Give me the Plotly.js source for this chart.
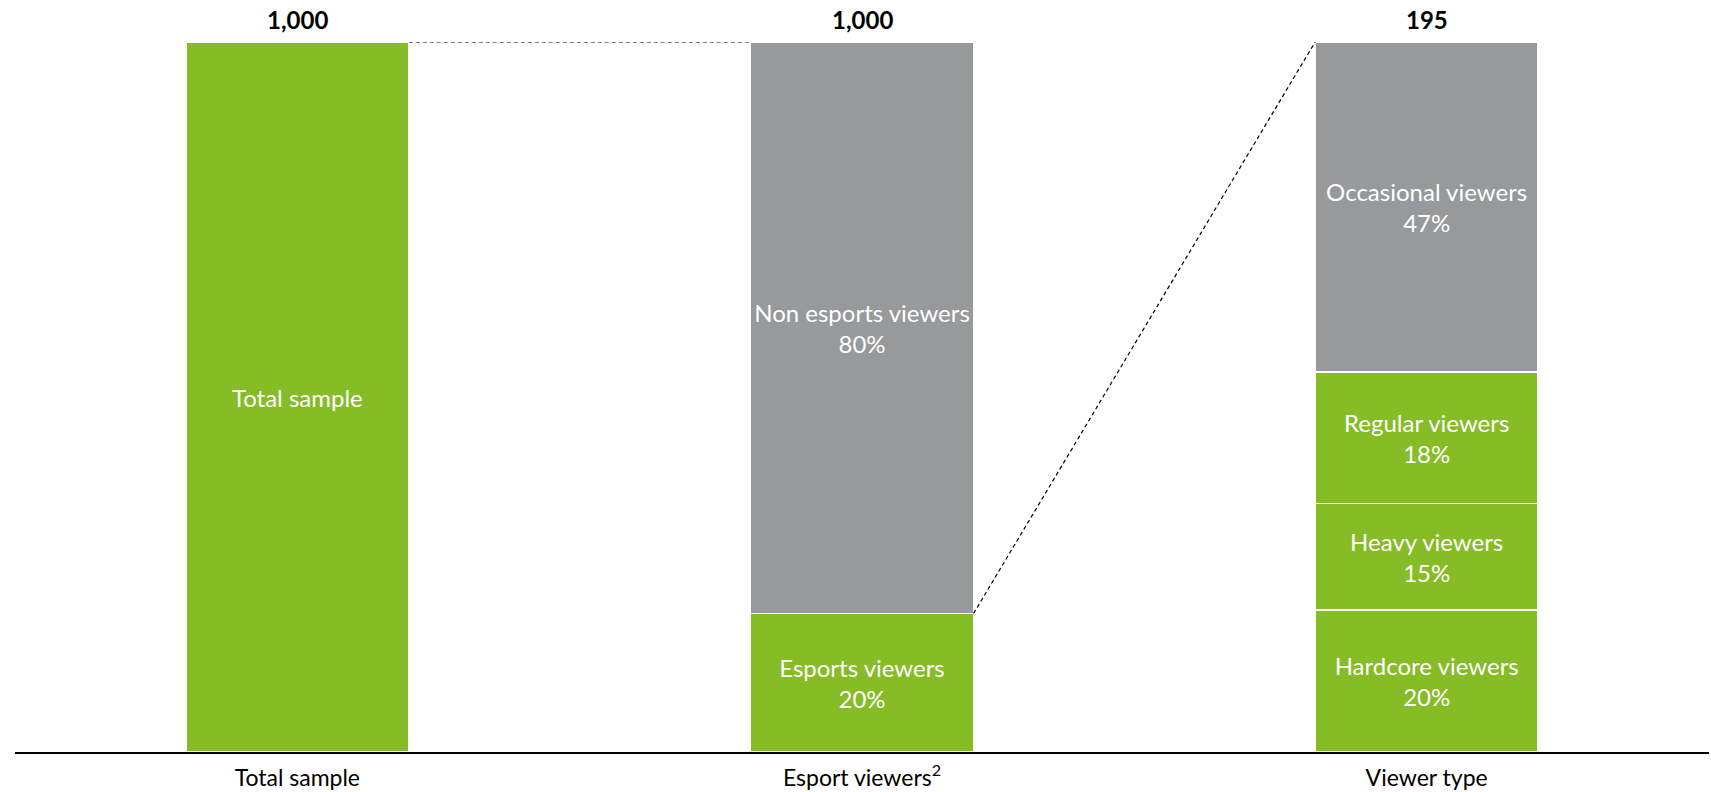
<!DOCTYPE html>
<html>
<head>
<meta charset="utf-8">
<script src="https://cdn.plot.ly/plotly-3.0.1.min.js"></script>
<style>html,body{margin:0;padding:0;background:#fff;}#chart{width:1711px;height:792px;}</style>
</head>
<body>
<div id="chart"></div>
<script>
// Categories (x axis)
const categories = ['Total sample', 'Esport viewers<sup>2</sup>', 'Viewer type'];
// Sample sizes shown above each bar
const totals = ['1,000', '1,000', '195'];

// Segments (share of bar, %)
const segNames  = ['Total sample', 'Esports viewers', 'Non esports viewers', 'Hardcore viewers', 'Heavy viewers', 'Regular viewers', 'Occasional viewers'];
const segCat    = [0, 1, 1, 2, 2, 2, 2];
const segValues = [100, 19.5, 80.5, 20, 15, 18.5, 46.5];
const segLabels = ['', '20%', '80%', '20%', '15%', '18%', '47%'];
const segGroup  = ['green', 'green', 'grey', 'green', 'green', 'green', 'grey'];

const GREEN = '#86bc25';
const GREY = '#97999b';
const FONT = 'Lato, "Open Sans", sans-serif';
const BARWIDTH = 0.395;

const traces = segNames.map((n, i) => ({
  type: 'bar',
  name: n,
  x: [categories[segCat[i]]],
  y: [segValues[i]],
  width: BARWIDTH,
  text: [segLabels[i] ? n + '<br>' + segLabels[i] : n],
  textposition: 'inside',
  insidetextanchor: 'middle',
  constraintext: 'none',
  textangle: 0,
  textfont: {family: FONT, size: 24, color: '#ffffff'},
  marker: {color: segGroup[i] === 'green' ? GREEN : GREY, line: {color: '#ffffff', width: 1.5}},
  hoverinfo: 'none',
  showlegend: false
}));

const annotations = categories.map((c, i) => ({
  x: c, y: 100, xref: 'x', yref: 'y',
  text: '<b>' + totals[i] + '</b>',
  showarrow: false, yanchor: 'bottom', yshift: 6,
  font: {family: FONT, size: 24, color: '#000'}
}));

// connector lines, computed from category index and bar width
const half = BARWIDTH / 2;
const esportsTop = segValues[1];
const shapes = [
  {type: 'line', xref: 'x', yref: 'y', x0: 0 + half, y0: 100, x1: 1 - half, y1: 100,
   line: {color: '#000', width: 1.2, dash: '4px,3px'}},
  {type: 'line', xref: 'x', yref: 'y', x0: 1 + half, y0: esportsTop, x1: 2 - half, y1: 100,
   line: {color: '#000', width: 1.2, dash: '4px,3px'}}
];

const layout = {
  width: 1711, height: 792,
  margin: {l: 15, r: 2, t: 42, b: 40},
  paper_bgcolor: '#fff', plot_bgcolor: '#fff',
  barmode: 'stack',
  showlegend: false,
  font: {family: FONT, size: 24, color: '#000'},
  xaxis: {
    type: 'category', categoryorder: 'array', categoryarray: categories,
    range: [-0.5, 2.5],
    showline: true, linecolor: '#000', linewidth: 2,
    showgrid: false, zeroline: false, ticks: '',
    ticklabelstandoff: 4,
    tickfont: {family: FONT, size: 23, color: '#000'},
    automargin: false, fixedrange: true
  },
  yaxis: {
    range: [0, 100], visible: false, showgrid: false, zeroline: false, fixedrange: true
  },
  annotations: annotations,
  shapes: shapes
};

Plotly.newPlot('chart', traces, layout, {displayModeBar: false, staticPlot: true});
</script>
</body>
</html>
